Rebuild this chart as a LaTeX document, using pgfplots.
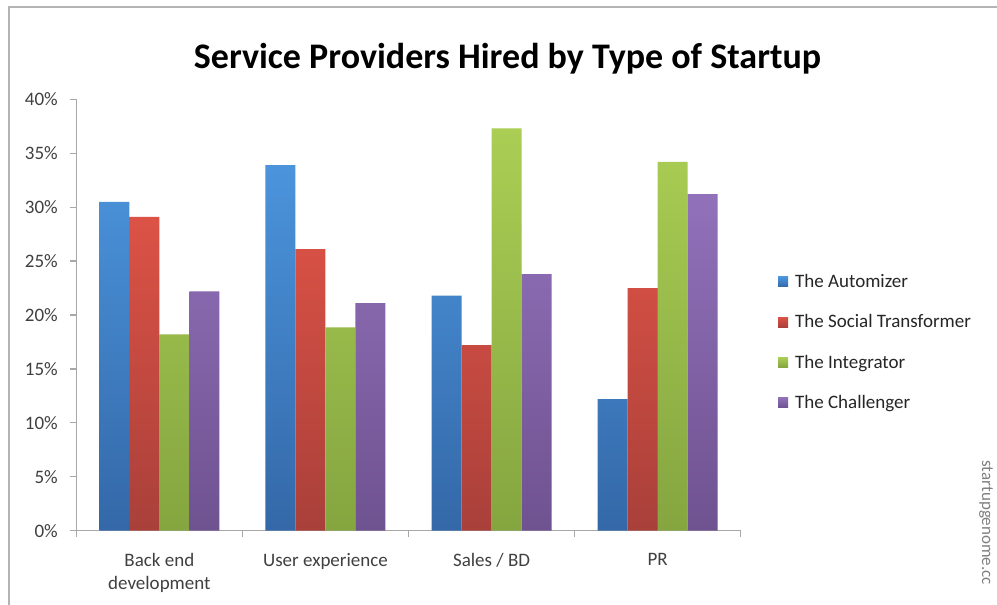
\documentclass[border=0pt]{standalone}
\usepackage{pgfplots}
\pgfplotsset{compat=1.18}
\usepackage{fontspec}
\setmainfont{Carlito}
\definecolor{bluetop}{HTML}{4B94DC}
\definecolor{bluebot}{HTML}{3468A8}
\definecolor{redtop}{HTML}{DC5246}
\definecolor{redbot}{HTML}{A9403A}
\definecolor{greentop}{HTML}{AACE54}
\definecolor{greenbot}{HTML}{85A540}
\definecolor{purptop}{HTML}{9171BA}
\definecolor{purpbot}{HTML}{6F5290}
\definecolor{axisgray}{HTML}{A8A8A8}
\definecolor{framegray}{HTML}{B4B4B4}
\definecolor{labelgray}{HTML}{404040}
\begin{document}
\begin{tikzpicture}[x=1pt,y=1pt]
\useasboundingbox (0,0) rectangle (997,605);
\clip (0,0) rectangle (997,605);
\fill[white] (0,0) rectangle (997,605);
\draw[framegray, line width=1.5pt] (9,-5) -- (9,598) -- (1005,598);
\node[font=\bfseries\fontsize{36}{36}\selectfont, anchor=base] at (507.5,536) {Service Providers Hired by Type of Startup};
\node[rotate=-90, anchor=base west, font=\fontsize{17}{17}\selectfont, text=gray] at (982,148) {startupgenome.cc};
\begin{axis}[
  at={(76.3pt,74.3pt)}, anchor=south west,
  scale only axis, width=664.4pt, height=431.4pt,
  xmin=0, xmax=4, ymin=0, ymax=40,
  axis x line*=bottom, axis y line*=left,
  axis line style={axisgray, line width=1.3pt},
  tick style={axisgray, line width=1.2pt},
  tick align=outside, major tick length=6pt,
  ytick={0,5,...,40},
  yticklabel={\pgfmathprintnumber{\tick}\%},
  /pgf/number format/assume math mode=true,
  yticklabel style={font=\fontsize{19}{19}\selectfont, text=labelgray, xshift=-9pt},
  xtick={0,1,2,3,4}, xticklabels={},
  extra x ticks={0.5,1.5,2.5,3.5},
  extra x tick labels={{Back end\\development},{User experience},{Sales / BD},{PR}},
  extra x tick style={major tick length=0pt, xticklabel style={align=center, font=\fontsize{19}{23}\selectfont, text=labelgray, yshift=-19pt}},
  ybar=0pt, bar width=30pt,
  legend image code/.code={\path[#1] (0pt,-5pt) rectangle (10pt,5pt);},
  legend style={at={(1.056,0.437)}, anchor=west, draw=none, fill=none,
    font=\fontsize{19}{19}\selectfont, row sep=21.5pt, inner sep=0pt,
    nodes={inner sep=2pt, text=black!85},
    /tikz/every odd column/.append style={column sep=5pt}},
  legend cell align=left,
]
\addplot[draw=none, top color=bluetop, bottom color=bluebot] coordinates {(0.5,30.5) (1.5,33.9) (2.5,21.8) (3.5,12.2)};
\addplot[draw=none, top color=redtop, bottom color=redbot] coordinates {(0.5,29.1) (1.5,26.1) (2.5,17.2) (3.5,22.5)};
\addplot[draw=none, top color=greentop, bottom color=greenbot] coordinates {(0.5,18.2) (1.5,18.85) (2.5,37.3) (3.5,34.2)};
\addplot[draw=none, top color=purptop, bottom color=purpbot] coordinates {(0.5,22.2) (1.5,21.1) (2.5,23.8) (3.5,31.2)};
\legend{The Automizer, The Social Transformer, The Integrator, The Challenger}
\end{axis}
\end{tikzpicture}
\end{document}
